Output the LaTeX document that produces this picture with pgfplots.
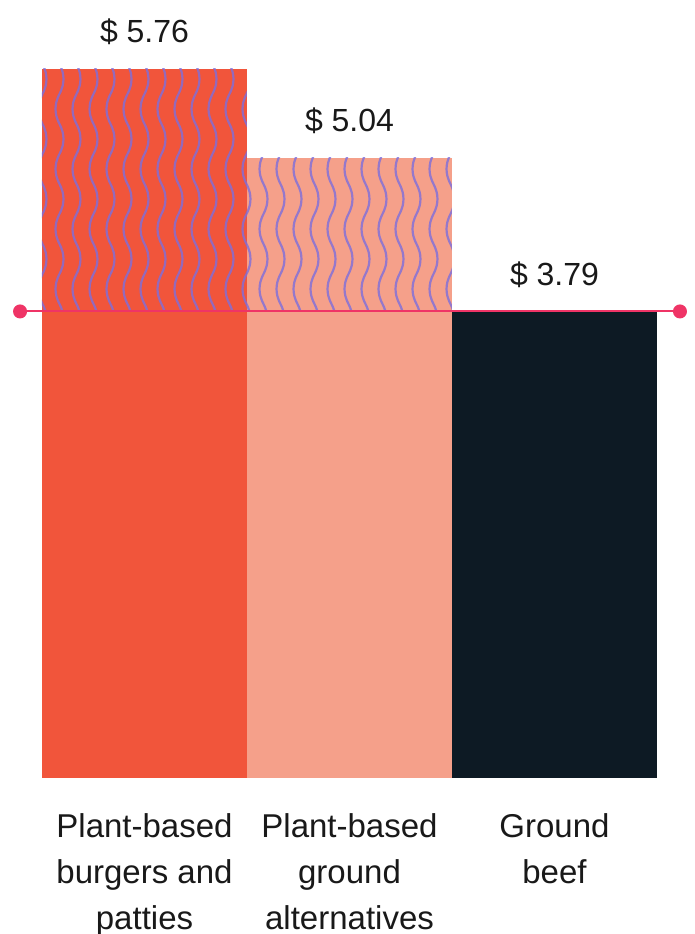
\documentclass[border=0pt]{standalone}
\usepackage{pgfplots}
\pgfplotsset{compat=1.18}
\usepackage{fontspec}
\setmainfont{Liberation Sans}
\usetikzlibrary{patterns.meta}
\definecolor{cA}{HTML}{F1553B}
\definecolor{cB}{HTML}{F5A08A}
\definecolor{cC}{HTML}{0D1A24}
\definecolor{lineC}{HTML}{EF3466}
\definecolor{waveC}{HTML}{7D6EDC}
\tikzdeclarepattern{
  name=waves,
  type=colored,
  bounding box={(0pt,-0.8pt) and (8.5pt,30.8pt)},
  tile size={(8.5pt,30pt)},
  code={
    \draw[waveC, opacity=0.8, line width=1.1pt] (4.25pt,0pt) .. controls (6.9pt,5pt) and (6.9pt,10pt) .. (4.25pt,15pt) .. controls (1.6pt,20pt) and (1.6pt,25pt) .. (4.25pt,30pt);
  }
}
\begin{document}
\begin{tikzpicture}
\useasboundingbox (-21pt,-78pt) rectangle (326.5pt,389pt);
\begin{axis}[
  scale only axis,
  width=307.5pt, height=389pt,
  xmin=-0.5, xmax=2.5, ymin=0, ymax=6.32,
  clip=false,
  axis lines=left,
  axis line style={draw=none},
  ytick=\empty,
  xtick={0,1,2},
  xtick style={draw=none},
  xticklabels={Plant-based\\burgers and\\patties, Plant-based\\ground\\alternatives, Ground\\beef},
  xticklabel style={align=center, font=\fontsize{16.5}{23}\selectfont, text=black!90, yshift=-12pt},
  /pgf/number format/assume math mode=true,
  point meta=y,
  every node near coord/.append style={font=\fontsize{16}{19}\selectfont, text=black!90, anchor=south, yshift=8.5pt},
]
% bars
\addplot[ybar, bar width=1, bar shift=0pt, fill=cA, draw=none,
  nodes near coords={\$ \pgfmathprintnumber[fixed,fixed zerofill,precision=2]{\pgfplotspointmeta}}]
  coordinates {(0,5.76)};
\addplot[ybar, bar width=1, bar shift=0pt, fill=cB, draw=none,
  nodes near coords={\$ \pgfmathprintnumber[fixed,fixed zerofill,precision=2]{\pgfplotspointmeta}}]
  coordinates {(1,5.04)};
\addplot[ybar, bar width=1, bar shift=0pt, fill=cC, draw=none,
  nodes near coords={\$ \pgfmathprintnumber[fixed,fixed zerofill,precision=2]{\pgfplotspointmeta}}]
  coordinates {(2,3.79)};
% premium above ground-beef price
\addplot[draw=none, pattern=waves] coordinates {(-0.5,3.79) (0.5,3.79) (0.5,5.76) (-0.5,5.76)} -- cycle;
\addplot[draw=none, pattern=waves] coordinates {(0.5,3.79) (1.5,3.79) (1.5,5.04) (0.5,5.04)} -- cycle;
% reference line
\addplot[lineC, line width=1pt, mark=*, mark size=3pt, mark options={fill=lineC, draw=lineC}]
  coordinates {(-0.607,3.79) (2.612,3.79)};
\end{axis}
\end{tikzpicture}
\end{document}
